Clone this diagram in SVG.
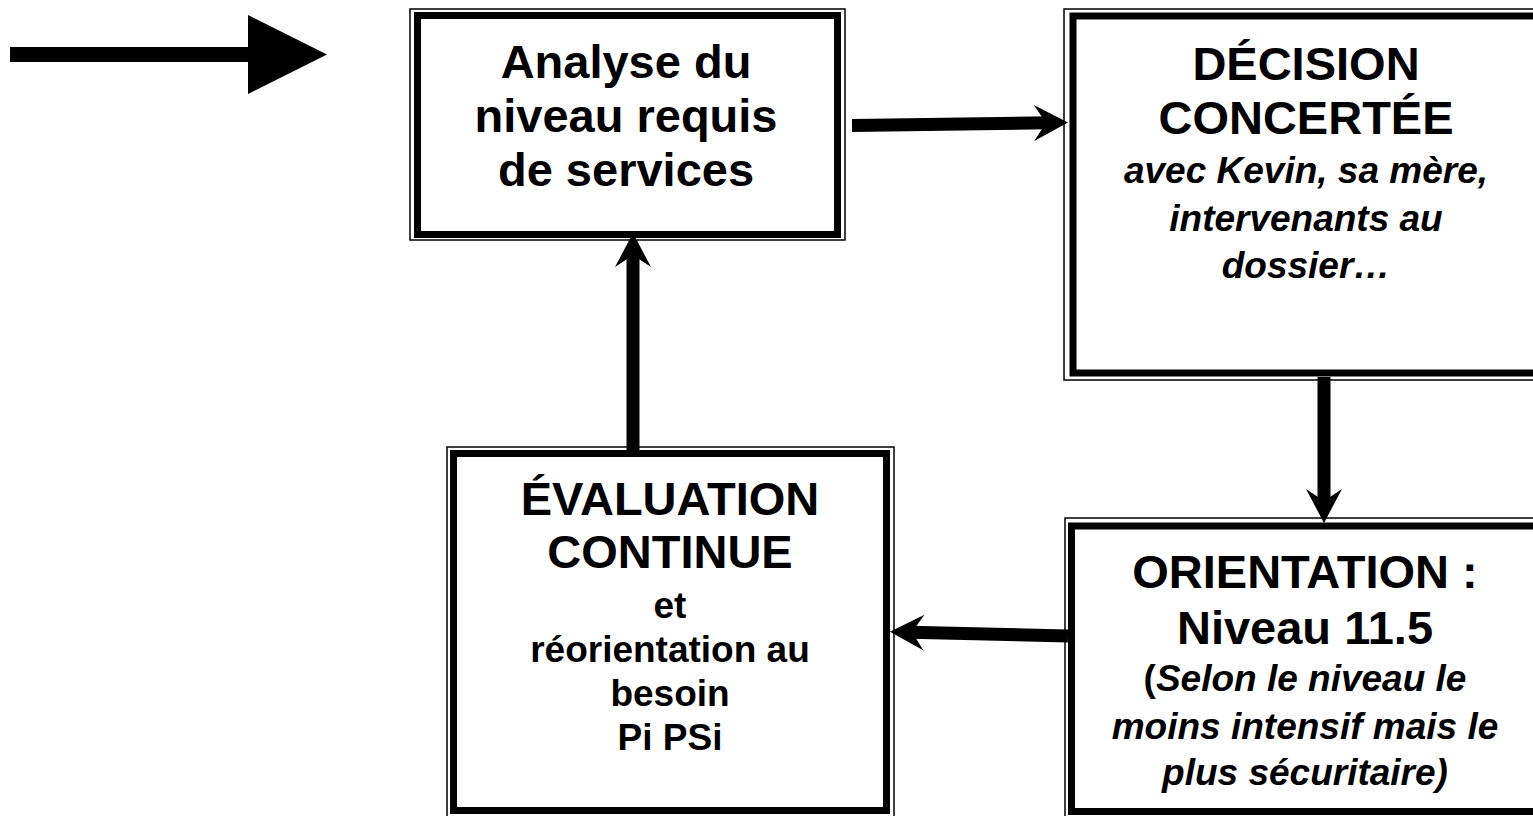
<svg xmlns="http://www.w3.org/2000/svg" width="1533" height="816" viewBox="0 0 1533 816">
<style>
.thin{fill:none;stroke:#000;stroke-width:1.5}
.thick{fill:none;stroke:#000;stroke-width:7}
text{font-family:"Liberation Sans",Arial,sans-serif;font-weight:bold;fill:#000;text-anchor:middle}
.big{font-size:47px}
.sm{font-size:37px}
.it{font-style:italic}
.conn{stroke:#000;stroke-width:13;fill:none;marker-end:url(#head)}
</style>
<defs>
<marker id="head" markerUnits="userSpaceOnUse" markerWidth="36" markerHeight="36" viewBox="0 0 34 36" refX="14" refY="18" orient="auto" overflow="visible">
<path d="M0,0 L34,18 L0,36 L12,18 Z" fill="#000"/>
</marker>
</defs>
<rect width="1533" height="816" fill="#fff"/>
<g id="start-arrow">
<rect x="10" y="47" width="240" height="15" fill="#000"/>
<polygon points="248,15 327,54.5 248,94" fill="#000"/>
</g>
<g id="node-analyse">
<rect class="thin" x="410" y="9" width="435" height="231"/>
<rect class="thick" x="417.5" y="15.5" width="420" height="219"/>
<text class="big" x="626" y="78">Analyse du</text>
<text class="big" x="626" y="132">niveau requis</text>
<text class="big" x="626" y="186">de services</text>
</g>
<g id="node-decision">
<rect class="thin" x="1064" y="9" width="520" height="371"/>
<rect class="thick" x="1073" y="16" width="500" height="357"/>
<text class="big" x="1306" y="80">DÉCISION</text>
<text class="big" x="1306" y="134">CONCERTÉE</text>
<text class="sm it" x="1306" y="183">avec Kevin, sa mère,</text>
<text class="sm it" x="1306" y="231">intervenants au</text>
<text class="sm it" x="1306" y="278">dossier…</text>
</g>
<g id="node-evaluation">
<rect class="thin" x="447" y="447" width="447" height="380"/>
<rect class="thick" x="453.5" y="453.5" width="433" height="357"/>
<text class="big" x="670" y="515">ÉVALUATION</text>
<text class="big" x="670" y="568">CONTINUE</text>
<text class="sm" x="670" y="618">et</text>
<text class="sm" x="670" y="662">réorientation au</text>
<text class="sm" x="670" y="706">besoin</text>
<text class="sm" x="670" y="750">Pi PSi</text>
</g>
<g id="node-orientation">
<rect class="thin" x="1065" y="518" width="520" height="310"/>
<rect class="thick" x="1071.5" y="526" width="500" height="285.5"/>
<text class="big" x="1305" y="588">ORIENTATION :</text>
<text class="big" x="1305" y="644">Niveau 11.5</text>
<text class="sm" x="1305" y="691">(<tspan class="it">Selon le niveau le</tspan></text>
<text class="sm it" x="1305" y="739">moins intensif mais le</text>
<text class="sm it" x="1305" y="785">plus sécuritaire)</text>
</g>
<g id="connectors">
<line class="conn" x1="852" y1="125.5" x2="1048" y2="122.8"/>
<line class="conn" x1="1324" y1="377" x2="1324" y2="503"/>
<line class="conn" x1="1068" y1="636" x2="910" y2="632.3"/>
<line class="conn" x1="633" y1="450" x2="633" y2="253"/>
</g>
</svg>
